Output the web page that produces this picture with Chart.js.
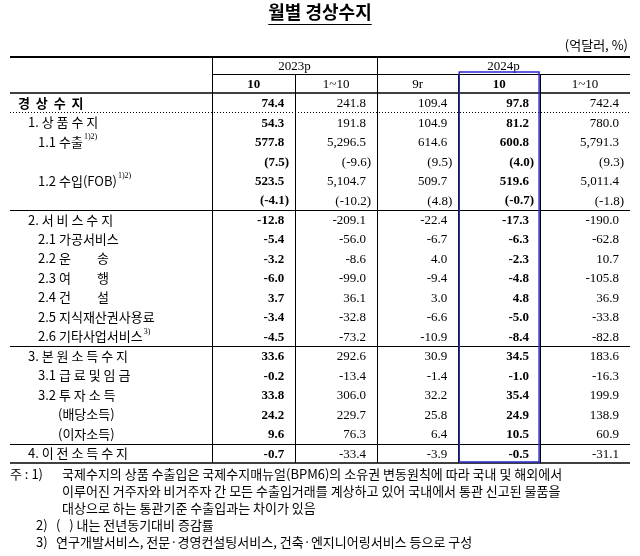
<!DOCTYPE html>
<html><head><meta charset="utf-8">
<script src="https://cdn.jsdelivr.net/npm/chart.js@4"></script>
<style>html,body{margin:0;padding:0;background:#fff}</style>
</head><body>
<canvas id="c" width="640" height="556"></canvas>
<script>
const title = '월별 경상수지';
const unit = '(억달러, %)';
const yearHeaders = ['2023p', '2024p'];
const colHeaders = ['10', '1~10', '9r', '10', '1~10'];
const boldCols = [true, false, false, true, false];
const rowLabels = ['경  상  수  지', '1. 상 품 수 지', '1.1 수출', '', '1.2 수입(FOB)', '', '2. 서 비 스 수 지', '2.1 가공서비스', '2.2 운         송', '2.3 여         행', '2.4 건         설', '2.5 지식재산권사용료', '2.6 기타사업서비스', '3. 본 원 소 득 수 지', '3.1 급 료 및 임 금', '3.2 투 자 소 득', '(배당소득)', '(이자소득)', '4. 이 전 소 득 수 지'];
const rowSup = ['', '', '1)2)', '', '1)2)', '', '', '', '', '', '', '', '3)', '', '', '', '', '', ''];
const rowIndent = [0, 1, 2, 0, 2, 0, 1, 2, 2, 2, 2, 2, 2, 1, 2, 2, 3, 3, 1];
const pctRow = [false, false, false, true, false, true, false, false, false, false, false, false, false, false, false, false, false, false, false];
const c2023m10 = [74.4, 54.3, 577.8, 7.5, 523.5, -4.1, -12.8, -5.4, -3.2, -6.0, 3.7, -3.4, -4.5, 33.6, -0.2, 33.8, 24.2, 9.6, -0.7];
const c2023ytd = [241.8, 191.8, 5296.5, -9.6, 5104.7, -10.2, -209.1, -56.0, -8.6, -99.0, 36.1, -32.8, -73.2, 292.6, -13.4, 306.0, 229.7, 76.3, -33.4];
const c2024m9 = [109.4, 104.9, 614.6, 9.5, 509.7, 4.8, -22.4, -6.7, 4.0, -9.4, 3.0, -6.6, -10.9, 30.9, -1.4, 32.2, 25.8, 6.4, -3.9];
const c2024m10 = [97.8, 81.2, 600.8, 4.0, 519.6, -0.7, -17.3, -6.3, -2.3, -4.8, 4.8, -5.0, -8.4, 34.5, -1.0, 35.4, 24.9, 10.5, -0.5];
const c2024ytd = [742.4, 780.0, 5791.3, 9.3, 5011.4, -1.8, -190.0, -62.8, 10.7, -105.8, 36.9, -33.8, -82.8, 183.6, -16.3, 199.9, 138.9, 60.9, -31.1];
const cols = [c2023m10, c2023ytd, c2024m9, c2024m10, c2024ytd];
const notes = [
 ['주 : 1)', '국제수지의 상품 수출입은 국제수지매뉴얼(BPM6)의 소유권 변동원칙에 따라 국내 및 해외에서'],
 ['', '이루어진 거주자와 비거주자 간 모든 수출입거래를 계상하고 있어 국내에서 통관 신고된 물품을'],
 ['', '대상으로 하는 통관기준 수출입과는 차이가 있음'],
 ['2)', '(   ) 내는 전년동기대비 증감률'],
 ['3)', '연구개발서비스, 전문·경영컨설팅서비스, 건축·엔지니어링서비스 등으로 구성']
];
const sectionBreaks = [5, 12, 17];

const KR = '"Noto Sans CJK KR", sans-serif';
const NUM = '"Liberation Serif", "DejaVu Serif", serif';
function fmt(v, pct) {
  const s = v.toLocaleString('en-US', {minimumFractionDigits: 1, maximumFractionDigits: 1});
  return pct ? '(' + s + ')' : s;
}

const tablePlugin = {
  id: 'table',
  afterDraw(chart) {
    const ctx = chart.ctx, a = chart.chartArea, y = chart.scales.y;
    const L = a.left, R = a.right;
    const edges = [0.326, 0.460, 0.592, 0.723, 0.855, 1.0];
    const colX = i => L + (R - L) * edges[i];
    const step = y.getPixelForValue(1) - y.getPixelForValue(0);
    ctx.save();
    ctx.fillStyle = '#000'; ctx.strokeStyle = '#000';
    ctx.font = 'bold 18px ' + KR; ctx.textAlign = 'center'; ctx.textBaseline = 'alphabetic';
    ctx.fillText(title, 320, 19);
    const tw = ctx.measureText(title).width;
    ctx.lineWidth = 1; ctx.beginPath(); ctx.moveTo(320 - tw / 2, 24.5); ctx.lineTo(320 + tw / 2, 24.5); ctx.stroke();
    ctx.font = '13px ' + KR; ctx.textAlign = 'right';
    ctx.fillText(unit, R - 2, 50);
    const hTop = 57, hMid = 74, hBot = a.top;
    ctx.lineWidth = 2; ctx.beginPath(); ctx.moveTo(L, hTop); ctx.lineTo(R, hTop); ctx.stroke();
    ctx.lineWidth = 1.5; ctx.beginPath(); ctx.moveTo(L, hBot); ctx.lineTo(R, hBot); ctx.stroke();
    ctx.lineWidth = 1;
    ctx.beginPath(); ctx.moveTo(colX(0), hMid + 0.5); ctx.lineTo(R, hMid + 0.5); ctx.stroke();
    for (let i = 0; i < 5; i++) {
      const x = Math.round(colX(i)) + 0.5;
      const top = (i === 1 || i === 3 || i === 4) ? hMid : hTop;
      ctx.beginPath(); ctx.moveTo(x, top); ctx.lineTo(x, a.bottom); ctx.stroke();
    }
    ctx.font = '13px ' + NUM; ctx.textAlign = 'center'; ctx.textBaseline = 'middle';
    ctx.fillText(yearHeaders[0], (colX(0) + colX(2)) / 2, (hTop + hMid) / 2 + 1);
    ctx.fillText(yearHeaders[1], (colX(2) + colX(5)) / 2, (hTop + hMid) / 2 + 1);
    colHeaders.forEach((h, i) => {
      ctx.font = (boldCols[i] ? 'bold ' : '') + '13px ' + NUM;
      ctx.fillText(h, (colX(i) + colX(i + 1)) / 2, (hMid + hBot) / 2 + 1);
    });
    rowLabels.forEach((lab, r) => {
      const py = y.getPixelForValue(r);
      if (lab) {
        ctx.textAlign = 'left';
        ctx.font = (r === 0 ? 'bold ' : '') + '13px ' + KR;
        const x0 = L + 8 + rowIndent[r] * 10 + (rowIndent[r] === 3 ? 10 : 0);
        ctx.fillText(lab, x0, py);
        if (rowSup[r]) {
          const w = ctx.measureText(lab).width;
          ctx.font = '8px ' + NUM; ctx.fillText(rowSup[r], x0 + w + 1, py - 5);
        }
      }
      cols.forEach((col, i) => {
        ctx.font = (boldCols[i] ? 'bold ' : '') + '13px ' + NUM;
        ctx.textAlign = 'right';
        ctx.fillText(fmt(col[r], pctRow[r]), colX(i + 1) - 11 + (pctRow[r] ? 5 : 0), py + 1);
      });
    });
    const d0 = (y.getPixelForValue(0) + y.getPixelForValue(1)) / 2;
    ctx.setLineDash([1, 2]); ctx.lineWidth = 1;
    ctx.beginPath(); ctx.moveTo(L, Math.round(d0) + 0.5); ctx.lineTo(R, Math.round(d0) + 0.5); ctx.stroke();
    ctx.setLineDash([]);
    sectionBreaks.forEach(r => {
      const yy = Math.round(y.getPixelForValue(r) + step / 2) + 0.5;
      ctx.beginPath(); ctx.moveTo(L, yy); ctx.lineTo(R, yy); ctx.stroke();
    });
    ctx.lineWidth = 1.5; ctx.beginPath(); ctx.moveTo(L, a.bottom); ctx.lineTo(R, a.bottom); ctx.stroke();
    ctx.strokeStyle = '#2a2ad0'; ctx.lineWidth = 1.5;
    ctx.strokeRect(colX(3) + 1, hMid - 2, colX(4) - colX(3) - 2, a.bottom - hMid + 1);
    ctx.fillStyle = '#000'; ctx.textAlign = 'left'; ctx.textBaseline = 'alphabetic';
    ctx.font = '13px ' + KR;
    notes.forEach((n, i) => {
      const ny = a.bottom + 16 + i * 17;
      if (n[0]) ctx.fillText(n[0], i === 0 ? L : 36, ny);
      ctx.fillText(n[1], i === 0 ? 62 : (i < 3 ? 62 : 56), ny);
    });
    ctx.restore();
  }
};

new Chart(document.getElementById('c'), {
  type: 'bar',
  data: { labels: rowLabels.map((l, i) => 'r' + i), datasets: [{ data: [], backgroundColor: 'rgba(0,0,0,0)' }] },
  options: {
    indexAxis: 'y', responsive: false, animation: false,
    layout: { padding: { top: 93, bottom: 93, left: 10, right: 10 } },
    plugins: { legend: { display: false }, tooltip: { enabled: false } },
    scales: { y: { display: false }, x: { display: false, min: 0, max: 1 } }
  },
  plugins: [tablePlugin]
});
</script>
</body></html>
